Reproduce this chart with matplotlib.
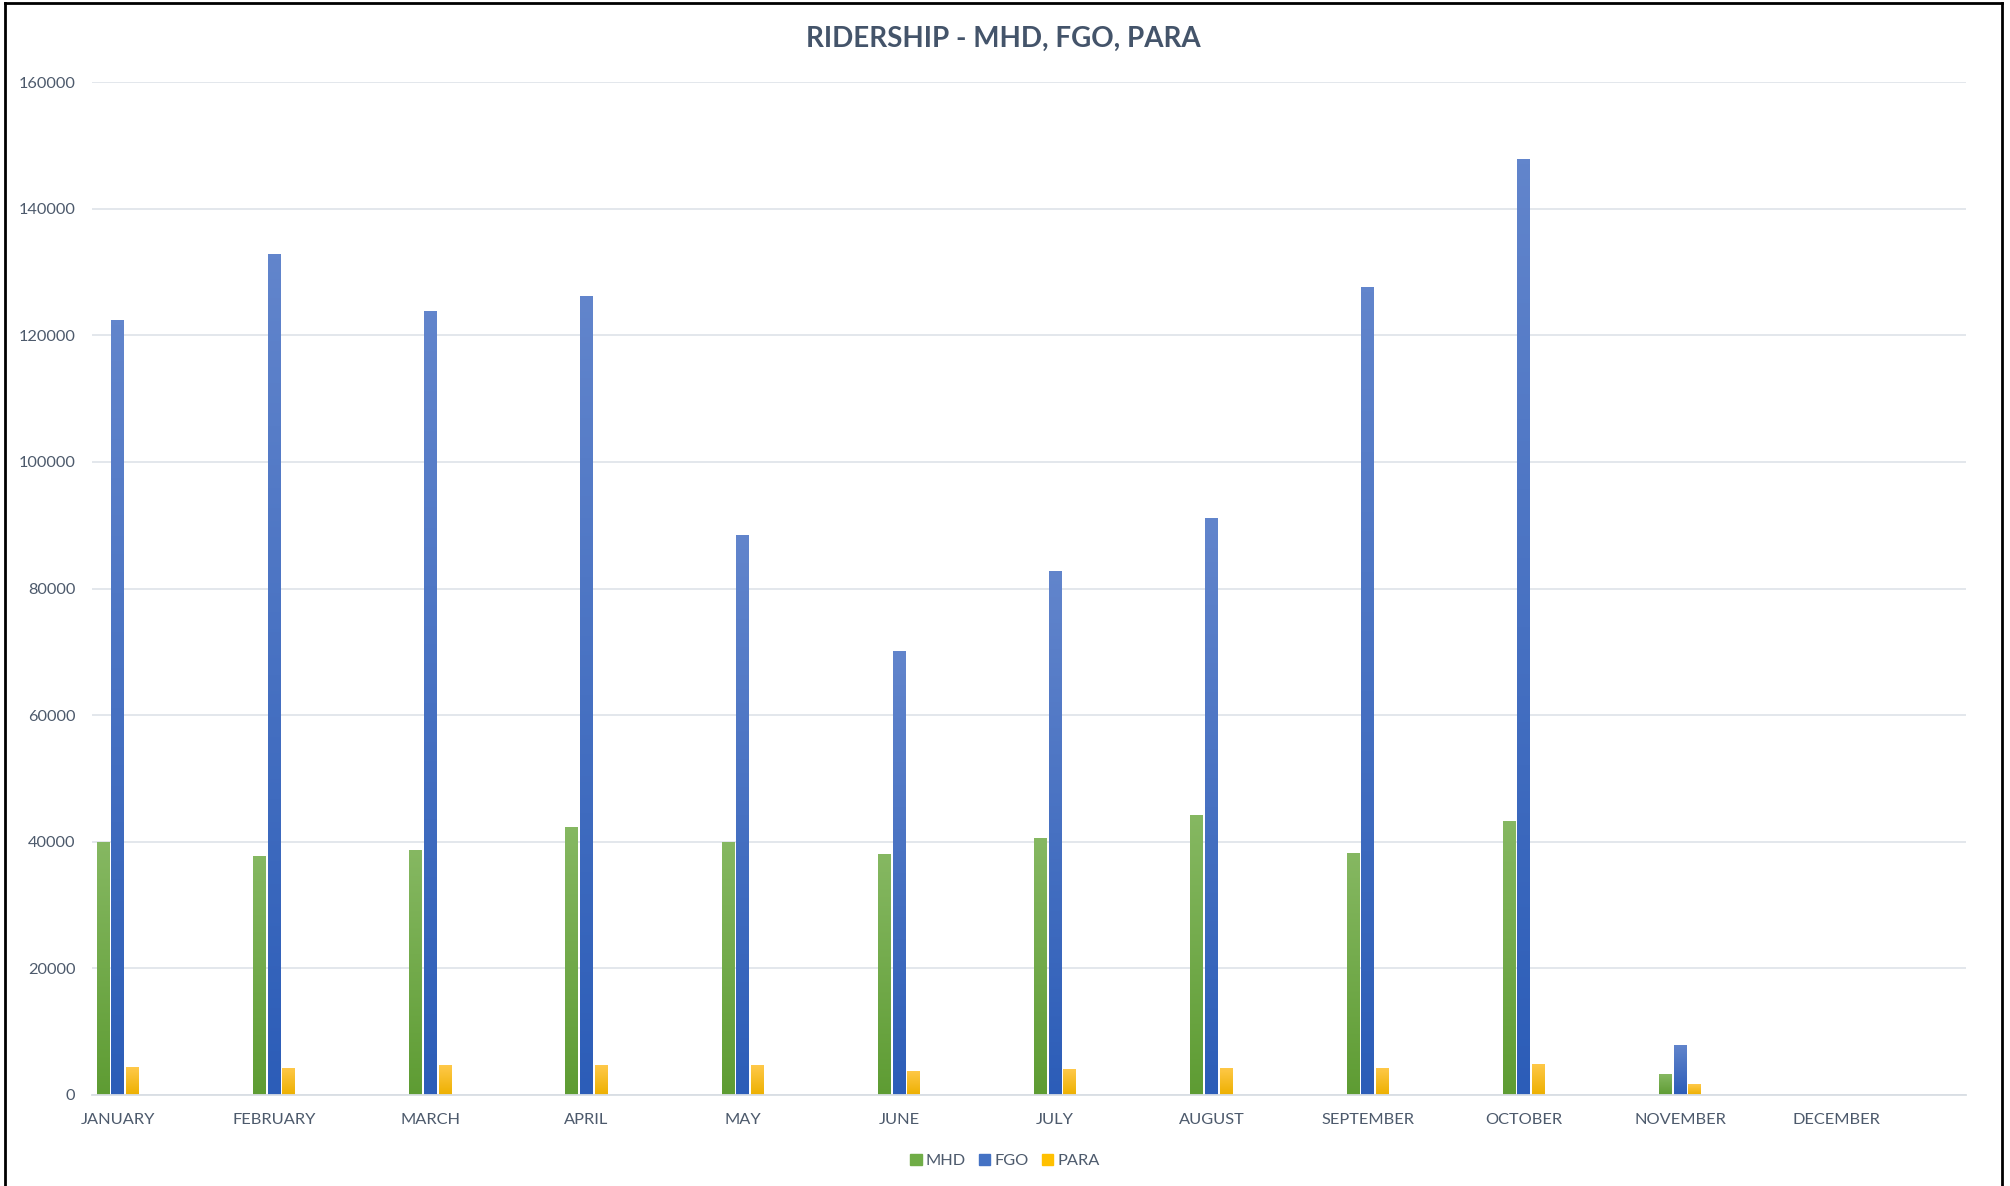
import matplotlib
matplotlib.use("Agg")
import matplotlib.pyplot as plt
import numpy as np
from matplotlib.colors import LinearSegmentedColormap

months = ["JANUARY", "FEBRUARY", "MARCH", "APRIL", "MAY", "JUNE", "JULY",
          "AUGUST", "SEPTEMBER", "OCTOBER", "NOVEMBER", "DECEMBER"]
mhd = [40000, 37800, 38700, 42400, 40000, 38000, 40600, 44300, 38300, 43200, 3300, 0]
fgo = [122400, 132800, 123900, 126200, 88500, 70100, 82800, 91100, 127600, 147800, 7900, 0]
para = [4400, 4300, 4700, 4700, 4700, 3800, 4100, 4300, 4300, 4900, 1700, 0]
series_names = ["MHD", "FGO", "PARA"]
yticks = [0, 20000, 40000, 60000, 80000, 100000, 120000, 140000, 160000]

plt.rcParams['font.family'] = ['Lato', 'DejaVu Sans']

W, H = 2010, 1186
fig = plt.figure(figsize=(W / 100, H / 100), dpi=100)
ax = fig.add_axes([92 / W, 1 - 1095 / H, (1966 - 92) / W, (1095 - 82) / H])

x = np.arange(len(months))
bw = 0.082
off = 0.094
base_cols = ["#70AD47", "#4472C4", "#FFC000"]
grads = [("#5E9C33", "#86B862"), ("#2C5DB8", "#6285CC"), ("#EDB000", "#FFC94A")]

txt = "#4D5A6C"
for i, (vals, name) in enumerate(zip([mhd, fgo, para], series_names)):
    bars = ax.bar(x + (i - 1) * off, vals, width=bw, color=base_cols[i],
                  label=name, zorder=2, linewidth=0)
    cmap = LinearSegmentedColormap.from_list("g%d" % i, list(grads[i]))
    grad = np.linspace(0, 1, 256).reshape(-1, 1)
    for b in bars:
        h = b.get_height()
        if h <= 0:
            continue
        bx = b.get_x()
        im = ax.imshow(grad, extent=[bx, bx + b.get_width(), 0, h], origin='lower',
                       aspect='auto', cmap=cmap, zorder=2.5, interpolation='bilinear')
        im.set_clip_path(b)

ax.set_xlim(-0.165, 11.83)
ax.set_ylim(0, 160000)
ax.set_yticks(yticks)
ax.set_yticklabels([str(v) for v in yticks])
ax.set_xticks(x)
ax.set_xticklabels(months)
ax.tick_params(axis='both', length=0, labelsize=11.8, colors=txt)
ax.tick_params(axis='y', pad=12)
ax.tick_params(axis='x', pad=13)
ax.grid(axis='y', color='#E1E5EA', linewidth=1.3, zorder=0)
ax.set_axisbelow(True)
for s in ['top', 'right', 'left']:
    ax.spines[s].set_visible(False)
ax.spines['bottom'].set_color('#D9DEE4')
ax.spines['bottom'].set_linewidth(1.3)

fig.text(1003 / W, 1 - 39 / H, "RIDERSHIP - MHD, FGO, PARA", ha='center', va='center',
         fontsize=20, fontweight='bold', color="#44546A")

handles = [plt.Rectangle((0, 0), 1, 1, color=c) for c in base_cols]
leg = fig.legend(handles, series_names, loc='center', bbox_to_anchor=(1005 / W, 1 - 1161 / H),
                 ncol=3, frameon=False, fontsize=11.8, handlelength=0.7, handleheight=0.7,
                 handletextpad=0.25, columnspacing=0.8)
for t in leg.get_texts():
    t.set_color(txt)

# chart border
fig.add_artist(plt.Line2D([5 / W, 5 / W], [0, 1 - 3 / H], color='black', linewidth=2,
                          transform=fig.transFigure))
fig.add_artist(plt.Line2D([5 / W, 2002 / W], [1 - 3 / H, 1 - 3 / H], color='black', linewidth=2,
                          transform=fig.transFigure))
fig.add_artist(plt.Line2D([2002 / W, 2002 / W], [0, 1 - 3 / H], color='black', linewidth=2,
                          transform=fig.transFigure))

fig.savefig("out.png", dpi=100)
